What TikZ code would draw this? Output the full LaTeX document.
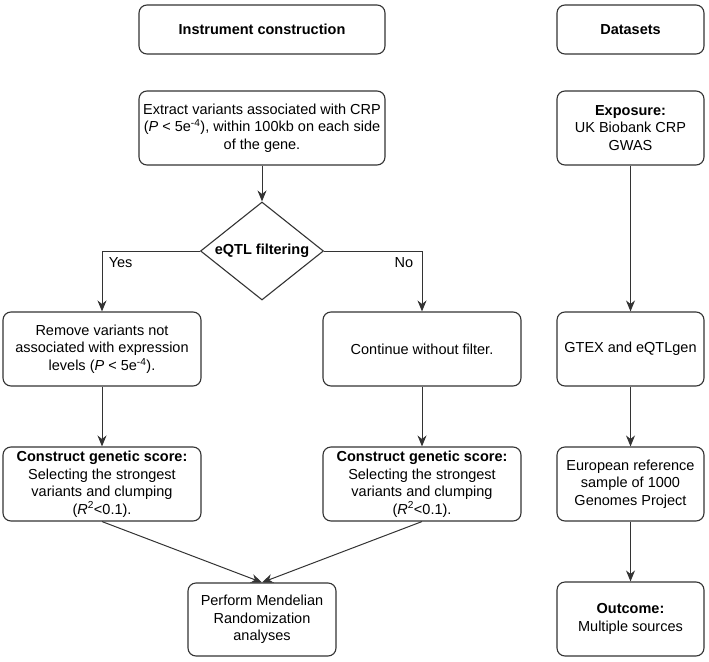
\documentclass[tikz,border=0pt]{standalone}
\usepackage{fontspec}
\setmainfont{Liberation Sans}
\usetikzlibrary{shapes.geometric}
\usetikzlibrary{arrows.meta}

\begin{document}
\begin{tikzpicture}[x=1pt,y=-1pt,
        box/.style={draw=black!80,line width=1.1pt,rounded corners=8pt,align=center,
          inner sep=1pt,font=\fontsize{14.5}{17.5}\selectfont},
        widebox/.style={box,minimum width=246pt,minimum height=74pt},
        sidebox/.style={box,minimum width=198pt,minimum height=74pt},
        databox/.style={box,minimum width=147pt,minimum height=74pt},
        decision/.style={diamond,draw=black!80,line width=1.1pt,inner sep=0pt,aspect=1.25,
          minimum width=123pt,minimum height=98pt,font=\fontsize{14.5}{17.5}\selectfont\bfseries},
        arr/.style={draw=black!80,line width=1pt,-{Stealth[length=11pt,width=9pt]}},
        lbl/.style={font=\fontsize{14.5}{17.5}\selectfont}]
        \useasboundingbox (0,0) rectangle (709,661);
        \node[widebox,minimum height=49pt] (inst) at (262,29.5) {\textbf{Instrument construction}};
        \node[databox,minimum height=49pt] (data) at (630.5,29.5) {\textbf{Datasets}};
        \node[widebox] (extract) at (262,128) {Extract variants associated with CRP\\(\textit{P} < 5e\textsuperscript{-4}), within 100kb on each side\\of the gene.};
        \node[databox] (expo) at (630.5,128) {\textbf{Exposure:}\\UK Biobank CRP\\GWAS};
        \node[decision] (filt) at (262,251) {eQTL filtering};
        \node[sidebox] (remove) at (102,349) {Remove variants not\\associated with expression\\levels (\textit{P} < 5e\textsuperscript{-4}).};
        \node[sidebox] (cont) at (422,349) {Continue without filter.};
        \node[databox] (gtex) at (630.5,349) {GTEX and eQTLgen};
        \node[sidebox] (scoreL) at (102,484) {\textbf{Construct genetic score:}\\Selecting the strongest\\variants and clumping\\(\textit{R}\textsuperscript{2}<0.1).};
        \node[sidebox] (scoreR) at (422,484) {\textbf{Construct genetic score:}\\Selecting the strongest\\variants and clumping\\(\textit{R}\textsuperscript{2}<0.1).};
        \node[databox] (euro) at (630.5,484) {European reference\\sample of 1000\\Genomes Project};
        \node[box,minimum width=148pt,minimum height=73pt] (mr) at (262,619.5) {Perform Mendelian\\Randomization\\analyses};
        \node[databox] (outc) at (630.5,619) {\textbf{Outcome:}\\Multiple sources};
        \draw[arr] (extract) -- (filt);
        \draw[arr] (filt.west) -| node[lbl,pos=0.5,below right,xshift=3pt,yshift=-3pt] {Yes} (remove.north);
        \draw[arr] (filt.east) -| node[lbl,pos=0.5,below left,xshift=-5pt,yshift=-3pt] {No} (cont.north);
        \draw[arr] (remove) -- (scoreL);
        \draw[arr] (cont) -- (scoreR);
        \draw[arr] (scoreL.south) -- (mr.north);
        \draw[arr] (scoreR.south) -- (mr.north);
        \draw[arr] (expo) -- (gtex);
        \draw[arr] (gtex) -- (euro);
        \draw[arr] (euro) -- (outc);
      \end{tikzpicture}
\end{document}
